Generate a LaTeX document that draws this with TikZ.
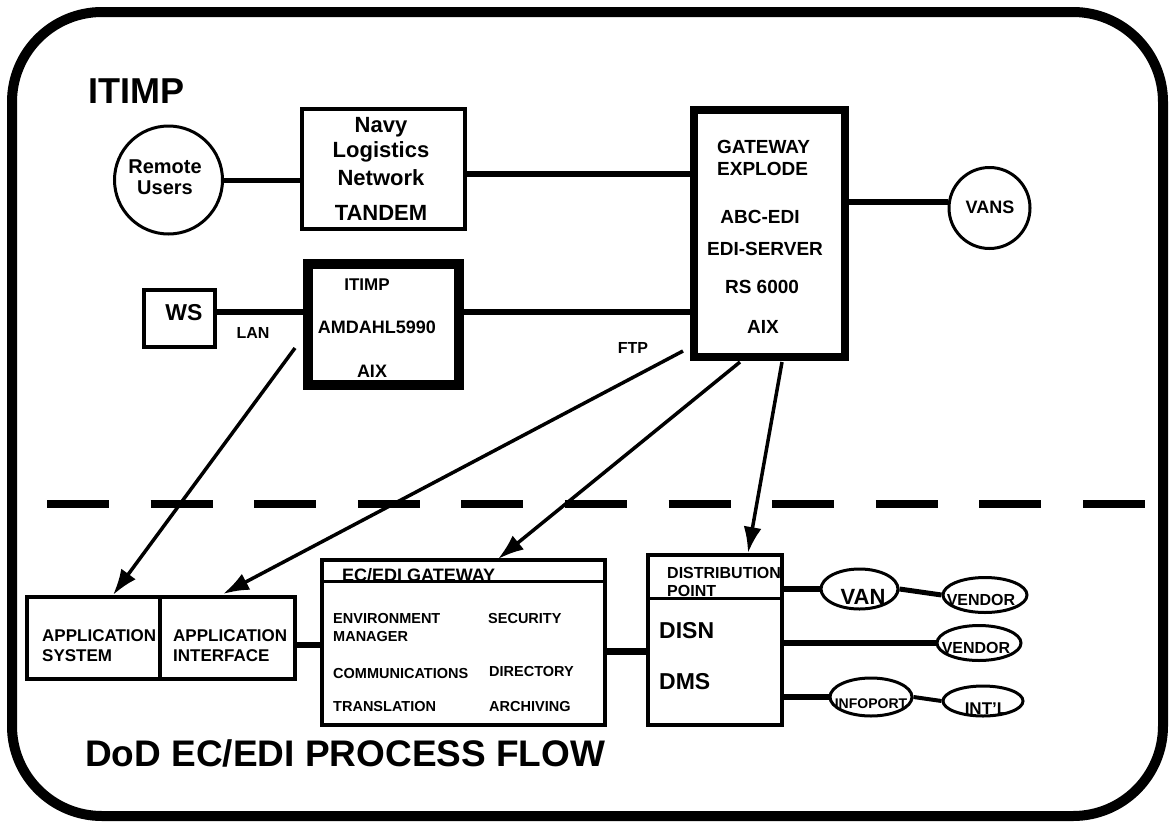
\documentclass[tikz,border=0pt]{standalone}
\usepackage{fontspec}
\setmainfont{Liberation Sans}
\usetikzlibrary{arrows.meta,shapes.geometric}
\newcommand\fsz[1]{\fontsize{#1}{#1}\selectfont\bfseries}
\begin{document}
\begin{tikzpicture}[x=1pt,y=-1pt,
  box/.style={draw, line width=4pt, inner sep=0pt, rectangle},
  oval/.style={draw, line width=3pt, ellipse, inner sep=0pt},
  conn/.style={line width=6pt},
  arr/.style={line width=3.5pt, -{Latex[length=26pt,width=18pt]}},
  lbl/.style={inner sep=0pt, anchor=base},
  lblw/.style={inner sep=0pt, anchor=base west}]
\useasboundingbox (0,0) rectangle (1170,822);
\fill[white] (0,0) rectangle (1170,822);
% frame
\draw[line width=10pt, rounded corners=90pt] (12,12) rectangle (1163,816);
% dashed separator
\draw[line width=8pt, dash pattern=on 62pt off 41.6pt] (47,504) -- (1147,504);

% ---- upper part
\node[lblw, font=\fsz{36}] (title1) at (88,103) {ITIMP};
\node[circle, draw, line width=3pt, minimum size=108pt, inner sep=0pt] (ru) at (168.5,180) {};
\node[lbl, font=\fsz{20}] (ru1) at (165,173) {Remote};
\node[lbl, font=\fsz{20}] (ru2) at (165,194) {Users};

\node[box, minimum width=163pt, minimum height=120pt] (navy) at (383.5,169) {};
\node[lbl, font=\fsz{22}] (n1) at (381,132) {Navy};
\node[lbl, font=\fsz{22}] (n2) at (381,157) {Logistics};
\node[lbl, font=\fsz{22}] (n3) at (381,185) {Network};
\node[lbl, font=\fsz{22}] (n4) at (381,220) {TANDEM};

\node[box, line width=8pt, minimum width=151pt, minimum height=247pt] (gw) at (769.5,233.5) {};
\node[lblw, font=\fsz{19}] (g1) at (717,153) {GATEWAY};
\node[lblw, font=\fsz{19}] (g2) at (717,175) {EXPLODE};
\node[lbl, font=\fsz{19}] (g3) at (760,223) {ABC-EDI};
\node[lbl, font=\fsz{19}] (g4) at (765,255) {EDI-SERVER};
\node[lbl, font=\fsz{19}] (g5) at (762,293) {RS 6000};
\node[lbl, font=\fsz{19}] (g6) at (763,333) {AIX};

\node[circle, draw, line width=3pt, minimum size=81pt, inner sep=0pt] (vans) at (989.5,208) {};
\node[lbl, font=\fsz{18}] (vanst) at (990,213) {VANS};

\node[box, minimum width=71pt, minimum height=57pt] (ws) at (179.5,318.5) {};
\node[lbl, font=\fsz{23}] (wst) at (184,320) {WS};
\node[lbl, font=\fsz{16}] (lan) at (253,338) {LAN};

\node[box, line width=10pt, minimum width=151pt, minimum height=121pt] (amdahl) at (383.5,324.5) {};
\node[lbl, font=\fsz{17}] (a1) at (367,290) {ITIMP};
\node[lbl, font=\fsz{18}] (a2) at (377,333) {AMDAHL5990};
\node[lbl, font=\fsz{18}] (a3) at (372,377) {AIX};

\node[lbl, font=\fsz{16}] (ftp) at (633,353) {FTP};

% upper connectors
\draw[conn, line width=5pt] (ru.east) -- (ru.east -| navy.west);
\draw[conn] ([yshift=-5pt]navy.east) -- ([yshift=-5pt]navy.east -| gw.west);
\draw[conn] (vans.172) -- (vans.172 -| gw.east);
\draw[conn] ([yshift=6.5pt]ws.east) -- ([yshift=6.5pt]ws.east -| amdahl.west);
\draw[conn] ([yshift=12.5pt]amdahl.east) -- ([yshift=12.5pt]amdahl.east -| gw.west);

% ---- lower part
\node[box, minimum width=133pt, minimum height=82pt] (appsys) at (93.5,638) {};
\node[box, minimum width=135pt, minimum height=82pt] (appif) at (227.5,638) {};
\node[lblw, font=\fsz{17}] (as1) at (42,641) {APPLICATION};
\node[lblw, font=\fsz{17}] (as2) at (42,661) {SYSTEM};
\node[lblw, font=\fsz{17}] (ai1) at (173,641) {APPLICATION};
\node[lblw, font=\fsz{17}] (ai2) at (173,661) {INTERFACE};

\node[box, minimum width=283pt, minimum height=165pt] (ecedi) at (463.5,642.5) {};
\draw[line width=3pt] ([yshift=-23pt]ecedi.north west) -- ([yshift=-23pt]ecedi.north east);
\node[lblw, font=\fsz{18}] (eh) at (342,581) {EC/EDI GATEWAY};
\node[lblw, font=\fsz{14.5}] (e1) at (333,623) {ENVIRONMENT};
\node[lblw, font=\fsz{14.5}] (e2) at (333,641) {MANAGER};
\node[lblw, font=\fsz{14.5}] (e3) at (333,678) {COMMUNICATIONS};
\node[lblw, font=\fsz{14.5}] (e4) at (333,711) {TRANSLATION};
\node[lblw, font=\fsz{14.5}] (e5) at (488,623) {SECURITY};
\node[lblw, font=\fsz{14.5}] (e6) at (489,676) {DIRECTORY};
\node[lblw, font=\fsz{14.5}] (e7) at (489,711) {ARCHIVING};

\node[box, minimum width=134pt, minimum height=170pt] (dist) at (715,640) {};
\draw[line width=3pt] ([yshift=-45pt]dist.north west) -- ([yshift=-45pt]dist.north east);
\node[lblw, font=\fsz{16}] (d1) at (667,578) {DISTRIBUTION};
\node[lblw, font=\fsz{16}] (d2) at (667,596) {POINT};
\node[lblw, font=\fsz{23}] (d3) at (659,638) {DISN};
\node[lblw, font=\fsz{23}] (d4) at (659,689) {DMS};

\node[oval, minimum width=77pt, minimum height=40pt] (van) at (859.5,589) {};
\node[lbl, font=\fsz{22}] (vant) at (863,604) {VAN};
\node[oval, minimum width=84pt, minimum height=35pt] (vendor1) at (985,595) {};
\node[lbl, font=\fsz{16}] (v1t) at (981,605) {VENDOR};
\node[oval, minimum width=84pt, minimum height=35pt] (vendor2) at (979,643) {};
\node[lbl, font=\fsz{16}] (v2t) at (976,653) {VENDOR};
\node[oval, minimum width=82pt, minimum height=38pt] (infoport) at (871,697) {};
\node[lbl, font=\fsz{14}] (ipt) at (871,708) {INFOPORT};
\node[oval, minimum width=80pt, minimum height=30pt] (intl) at (983,701) {};
\node[lbl, font=\fsz{17}] (it) at (986,714) {INT'L};

\node[lblw, font=\fsz{37}] (title2) at (85,766) {DoD EC/EDI PROCESS FLOW};

% lower connectors
\draw[conn] ([yshift=-7pt]appif.east) -- ([yshift=-7pt]appif.east -| ecedi.west);
\draw[conn, line width=7pt] ([yshift=-8.5pt]ecedi.east) -- ([yshift=-8.5pt]ecedi.east -| dist.west);
\draw[conn] (van.west -| dist.east) -- (van.west);
\draw[conn, line width=5pt] (van.east) -- (vendor1.west);
\draw[conn] (vendor2.west -| dist.east) -- (vendor2.west);
\draw[conn] (infoport.west -| dist.east) -- (infoport.west);
\draw[conn, line width=4pt] (infoport.east) -- (intl.west);

% arrows
\coordinate (s1) at (295,348);
\coordinate (t1) at (113,595);
\coordinate (s2) at (683,351);
\coordinate (t2) at (223,594);
\coordinate (s3) at (740,362);
\coordinate (t3) at (498,559);
\coordinate (s4) at (782,362);
\coordinate (t4) at (748,553);
\draw[arr] (s1) -- (t1);
\draw[arr] (s2) -- (t2);
\draw[arr] (s3) -- (t3);
\draw[arr] (s4) -- (t4);
\end{tikzpicture}
\end{document}
